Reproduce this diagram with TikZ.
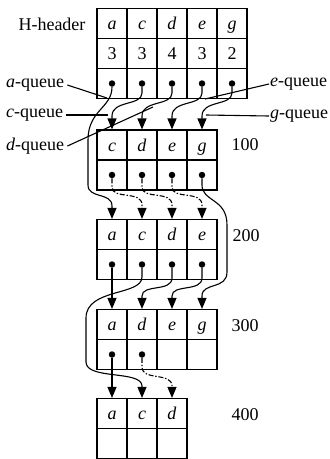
\documentclass[tikz,border=0pt]{standalone}
\usepackage{fontspec}
\setmainfont{Liberation Serif}
\usetikzlibrary{arrows.meta}
\begin{document}
\begin{tikzpicture}[x=1pt,y=-1pt,
  every node/.style={font=\fontsize{18}{20}\selectfont},
  cell/.style={draw, line width=1.1pt, minimum width=30pt, minimum height=30pt,
    inner sep=0pt, text height=12pt, text depth=0pt},
  ptr/.style={line width=1.1pt, -{Triangle[length=11pt,width=9pt]}},
  dptr/.style={ptr, dash pattern=on 5pt off 1.8pt on 1.4pt off 1.8pt},
  lbl/.style={line width=1.1pt},
  txt/.style={inner sep=0pt},
  dotc/.style={circle, fill, inner sep=0pt, minimum size=6.5pt}]
\useasboundingbox (0,0) rectangle (330,459);

% header
\node[txt] (hh) at (52,24) {H-header};
\foreach \l/\n [count=\i] in {a/3,c/3,d/4,e/3,g/2} {
  \node[cell] (h\i) at (82+30*\i,23.5) {\textit{\l}};
  \node[cell] (hn\i) at (82+30*\i,53.5) {\n};
  \node[cell] (hp\i) at (82+30*\i,83.5) {};
  \node[dotc] (hd\i) at (hp\i) {};
}
% block 100
\foreach \l [count=\i] in {c,d,e,g} {
  \node[cell] (b1l\i) at (82+30*\i,145) {\textit{\l}};
  \node[cell] (b1p\i) at (82+30*\i,175) {};
  \node[dotc] (b1d\i) at (b1p\i) {};
}
% block 200
\foreach \l [count=\i] in {a,c,d,e} {
  \node[cell] (b2l\i) at (82+30*\i,234.5) {\textit{\l}};
  \node[cell] (b2p\i) at (82+30*\i,264.5) {};
  \node[dotc] (b2d\i) at (b2p\i) {};
}
% block 300
\foreach \l [count=\i] in {a,d,e,g} {
  \node[cell] (b3l\i) at (82+30*\i,324.5) {\textit{\l}};
  \node[cell] (b3p\i) at (82+30*\i,354.5) {};
}
\node[dotc] (b3d1) at (b3p1) {};
\node[dotc] (b3d2) at (b3p2) {};
% block 400
\foreach \l [count=\i] in {a,c,d} {
  \node[cell] (b4l\i) at (82+30*\i,413.5) {\textit{\l}};
  \node[cell] (b4p\i) at (82+30*\i,443.5) {};
}

% block labels
\node[txt] (n100) at (245,145) {100};
\node[txt] (n200) at (246,236) {200};
\node[txt] (n300) at (245,326) {300};
\node[txt] (n400) at (245,415) {400};

% queue labels
\node[txt,anchor=west] (qa) at (6,85) {\textit{a}-queue};
\node[txt,anchor=west] (qc) at (6,115) {\textit{c}-queue};
\node[txt,anchor=west] (qd) at (6,146) {\textit{d}-queue};
\node[txt,anchor=west] (qe) at (270,84) {\textit{e}-queue};
\node[txt,anchor=west] (qg) at (270,116) {\textit{g}-queue};
\coordinate (ea) at (107,98);
\coordinate (ec) at (108,115);
\coordinate (ed) at (153,107);
\coordinate (ee) at (205,99);
\coordinate (eg) at (206,115);
\draw[lbl] ([xshift=3pt]qa.east) -- (ea);
\draw[lbl] ([xshift=3pt]qc.east) -- (ec);
\draw[lbl] ([xshift=3pt]qd.east) -- (ed);
\draw[lbl] ([xshift=-1pt]qe.west) -- (ee);
\draw[lbl] ([xshift=-1pt]qg.west) -- (eg);

% header -> block 100 / 200
\draw[ptr] (hd1) .. controls (112,108) and (88,110) .. (88,140) -- (88,185)
  .. controls (88,199) and (112,192) .. (112,206) -- (b2l1.north);
\draw[ptr] (hd2) -- (142,93) .. controls (142,106) and (112,100) .. (112,116) -- (b1l1.north);
\draw[ptr] (hd3) -- (172,93) .. controls (172,106) and (142,100) .. (142,116) -- (b1l2.north);
\draw[ptr] (hd4) -- (202,93) .. controls (202,106) and (172,100) .. (172,116) -- (b1l3.north);
\draw[ptr] (hd5) -- (232,93) .. controls (232,106) and (202,100) .. (202,116) -- (b1l4.north);

% block 100 -> 200 / 300
\draw[dptr] (b1d1) -- (112,187) .. controls (112,200) and (142,190) .. (142,205) -- (b2l2.north);
\draw[dptr] (b1d2) -- (142,187) .. controls (142,200) and (172,190) .. (172,205) -- (b2l3.north);
\draw[dptr] (b1d3) -- (172,187) .. controls (172,200) and (202,190) .. (202,205) -- (b2l4.north);
\draw[ptr] (b1d4) -- (202,185) .. controls (202,202) and (227,198) .. (227,225) -- (227,272)
  .. controls (227,290) and (202,282) .. (202,296) -- (b3l4.north);

% block 200 -> 300 / 400
\draw[ptr] (b2d1) -- (b3l1.north);
\draw[ptr] (b2d2) -- (142,277) .. controls (142,296) and (86,288) .. (86,318) -- (86,362)
  .. controls (86,380) and (142,370) .. (142,386) -- (b4l2.north);
\draw[ptr] (b2d3) -- (172,278) .. controls (172,292) and (142,284) .. (142,296) -- (b3l2.north);
\draw[ptr] (b2d4) -- (202,278) .. controls (202,292) and (172,284) .. (172,296) -- (b3l3.north);

% block 300 -> 400
\draw[ptr] (b3d1) -- (b4l1.north);
\draw[dptr] (b3d2) -- (142,367) .. controls (142,381) and (172,372) .. (172,386) -- (b4l3.north);
\end{tikzpicture}
\end{document}
